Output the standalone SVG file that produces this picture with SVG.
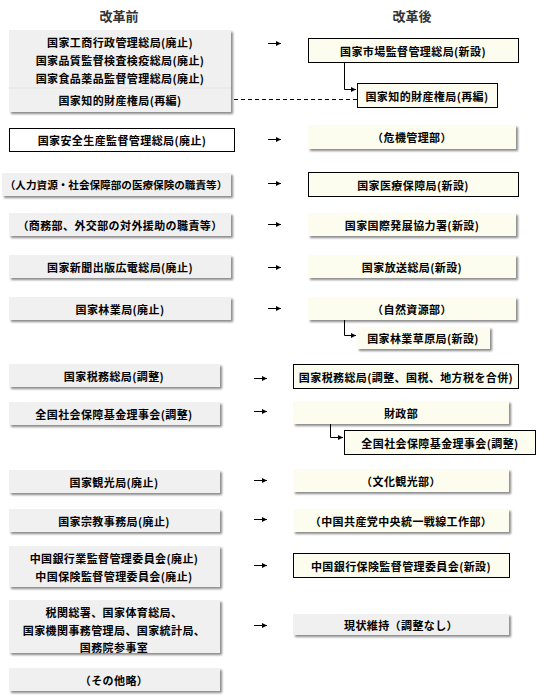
<svg xmlns="http://www.w3.org/2000/svg" width="552" height="700" viewBox="0 0 552 700">
<defs>
<style>
.bg{fill:#fff}
.g{fill:#f0f0f0}
.c{fill:#fdfdef}
.w{fill:#fff}
.s{fill:#8a8a8a;filter:url(#blur)}
.b{stroke:#000;stroke-width:1}
.ln{fill:none;stroke:#000;stroke-width:1}
.dash{fill:none;stroke:#000;stroke-width:1;stroke-dasharray:4 3}
text{font-family:"Noto Sans CJK JP","Noto Sans CJK SC",sans-serif;font-size:11px;font-weight:bold;letter-spacing:0.4px;fill:#000;text-anchor:middle;dominant-baseline:central}
text.h{font-size:13px;font-weight:bold;letter-spacing:0;fill:#333}
text.n{letter-spacing:0;font-size:10.6px}
</style>
<filter id="blur" x="-5%" y="-20%" width="110%" height="140%">
<feGaussianBlur stdDeviation="0.8"/>
</filter>
<marker id="ah" viewBox="0 0 6 6" refX="6" refY="3" markerWidth="5" markerHeight="5" orient="auto" markerUnits="userSpaceOnUse">
<path d="M0,0 L6,3 L0,6 Z" fill="#000"/>
</marker>
</defs>
<rect class="bg" x="0" y="0" width="552" height="700"/>
<text class="h" x="119" y="15">改革前</text>
<text class="h" x="412" y="15">改革後</text>

<g id="L1">
<rect class="s" x="11" y="32" width="222" height="82"/>
<rect class="g" x="9" y="30" width="222" height="82"/>
<line x1="9" y1="88" x2="231" y2="88" stroke="#e4e4e4"/>
<text x="120" y="42">国家工商行政管理総局(廃止)</text>
<text x="120" y="60">国家品質監督検査検疫総局(廃止)</text>
<text x="120" y="78">国家食品薬品監督管理総局(廃止)</text>
<text x="120" y="100">国家知的財産権局(再編)</text>
</g>
<g id="R1">
<rect class="c b" x="308.5" y="38.5" width="210" height="24"/>
<text x="413" y="51">国家市場監督管理総局(新設)</text>
</g>
<g id="R1b">
<rect class="c b" x="357.5" y="83.5" width="140" height="24"/>
<text x="427" y="96">国家知的財産権局(再編)</text>
</g>

<g id="L2">
<rect class="w b" x="9.5" y="128.5" width="225" height="23"/>
<text x="122" y="140">国家安全生産監督管理総局(廃止)</text>
</g>
<g id="R2">
<rect class="s" x="310" y="127" width="208" height="24"/>
<rect class="c" x="308" y="125" width="208" height="24"/>
<text x="412" y="137">（危機管理部）</text>
</g>

<g id="L3">
<rect class="s" x="4" y="175" width="229" height="23"/>
<rect class="g" x="2" y="173" width="229" height="23"/>
<text class="n" x="116" y="184">（人力資源・社会保障部の医療保険の職責等）</text>
</g>
<g id="R3">
<rect class="c b" x="308.5" y="172.5" width="210" height="24"/>
<text x="413" y="185">国家医療保障局(新設)</text>
</g>

<g id="L4">
<rect class="s" x="11" y="215" width="222" height="23"/>
<rect class="g" x="9" y="213" width="222" height="23"/>
<text x="120" y="225">（商務部、外交部の対外援助の職責等）</text>
</g>
<g id="R4">
<rect class="s" x="310" y="215" width="208" height="23"/>
<rect class="c" x="308" y="213" width="208" height="23"/>
<text x="412" y="225">国家国際発展協力署(新設)</text>
</g>

<g id="L5">
<rect class="s" x="11" y="257" width="222" height="23"/>
<rect class="g" x="9" y="255" width="222" height="23"/>
<text x="120" y="267">国家新聞出版広電総局(廃止)</text>
</g>
<g id="R5">
<rect class="s" x="310" y="257" width="208" height="23"/>
<rect class="c" x="308" y="255" width="208" height="23"/>
<text x="412" y="267">国家放送総局(新設)</text>
</g>

<g id="L6">
<rect class="s" x="11" y="299" width="222" height="23"/>
<rect class="g" x="9" y="297" width="222" height="23"/>
<text x="120" y="309">国家林業局(廃止)</text>
</g>
<g id="R6">
<rect class="s" x="310" y="299" width="208" height="23"/>
<rect class="c" x="308" y="297" width="208" height="23"/>
<text x="412" y="309">（自然資源部）</text>
</g>
<g id="R6b">
<rect class="s" x="359" y="329" width="133" height="22"/>
<rect class="c" x="357" y="327" width="133" height="22"/>
<text x="423" y="338">国家林業草原局(新設)</text>
</g>

<g id="L7">
<rect class="s" x="11" y="366" width="211" height="23"/>
<rect class="g" x="9" y="364" width="211" height="23"/>
<text x="114" y="376">国家税務総局(調整)</text>
</g>
<g id="R7">
<rect class="c b" x="293.5" y="364.5" width="225" height="24"/>
<text x="406" y="377">国家税務総局(調整、国税、地方税を合併)</text>
</g>

<g id="L8">
<rect class="s" x="11" y="404" width="211" height="23"/>
<rect class="g" x="9" y="402" width="211" height="23"/>
<text x="114" y="414">全国社会保障基金理事会(調整)</text>
</g>
<g id="R8">
<rect class="s" x="295" y="403" width="216" height="23"/>
<rect class="c" x="293" y="401" width="216" height="23"/>
<text x="401" y="413">財政部</text>
</g>
<g id="R8b">
<rect class="c b" x="344.5" y="430.5" width="191" height="24"/>
<text x="440" y="443">全国社会保障基金理事会(調整)</text>
</g>

<g id="L9">
<rect class="s" x="11" y="472" width="211" height="23"/>
<rect class="g" x="9" y="470" width="211" height="23"/>
<text x="114" y="482">国家観光局(廃止)</text>
</g>
<g id="R9">
<rect class="s" x="295" y="471" width="216" height="23"/>
<rect class="c" x="293" y="469" width="216" height="23"/>
<text x="401" y="481">（文化観光部）</text>
</g>

<g id="L10">
<rect class="s" x="11" y="511" width="211" height="23"/>
<rect class="g" x="9" y="509" width="211" height="23"/>
<text x="114" y="521">国家宗教事務局(廃止)</text>
</g>
<g id="R10">
<rect class="s" x="295" y="511" width="216" height="23"/>
<rect class="c" x="293" y="509" width="216" height="23"/>
<text x="401" y="521">（中国共産党中央統一戦線工作部）</text>
</g>

<g id="L11">
<rect class="s" x="11" y="548" width="211" height="41"/>
<rect class="g" x="9" y="546" width="211" height="41"/>
<text x="114" y="558">中国銀行業監督管理委員会(廃止)</text>
<text x="114" y="576">中国保険監督管理委員会(廃止)</text>
</g>
<g id="R11">
<rect class="c b" x="293.5" y="553.5" width="216" height="24"/>
<text x="401" y="566">中国銀行保険監督管理委員会(新設)</text>
</g>

<g id="L12">
<rect class="s" x="11" y="602" width="211" height="53"/>
<rect class="g" x="9" y="600" width="211" height="53"/>
<text x="114" y="612">税関総署、国家体育総局、</text>
<text x="114" y="630">国家機関事務管理局、国家統計局、</text>
<text x="114" y="647">国務院参事室</text>
</g>
<g id="R12">
<rect class="s" x="295" y="616" width="216" height="21"/>
<rect class="g" x="293" y="614" width="216" height="21"/>
<text x="401" y="625">現状維持（調整なし）</text>
</g>

<g id="L13">
<rect class="s" x="11" y="670" width="211" height="23"/>
<rect class="g" x="9" y="668" width="211" height="23"/>
<text x="114" y="680">（その他略）</text>
</g>

<g id="connectors">
<line class="ln" x1="268" y1="43.5" x2="281" y2="43.5" marker-end="url(#ah)"/>
<line class="ln" x1="268" y1="139.5" x2="281" y2="139.5" marker-end="url(#ah)"/>
<line class="ln" x1="268" y1="183.5" x2="281" y2="183.5" marker-end="url(#ah)"/>
<line class="ln" x1="268" y1="224.5" x2="281" y2="224.5" marker-end="url(#ah)"/>
<line class="ln" x1="268" y1="267.5" x2="281" y2="267.5" marker-end="url(#ah)"/>
<line class="ln" x1="268" y1="308.5" x2="281" y2="308.5" marker-end="url(#ah)"/>
<line class="ln" x1="254" y1="378.5" x2="267" y2="378.5" marker-end="url(#ah)"/>
<line class="ln" x1="254" y1="411.5" x2="267" y2="411.5" marker-end="url(#ah)"/>
<line class="ln" x1="254" y1="480.5" x2="267" y2="480.5" marker-end="url(#ah)"/>
<line class="ln" x1="254" y1="519.5" x2="267" y2="519.5" marker-end="url(#ah)"/>
<line class="ln" x1="254" y1="565.5" x2="267" y2="565.5" marker-end="url(#ah)"/>
<line class="ln" x1="254" y1="625.5" x2="267" y2="625.5" marker-end="url(#ah)"/>
<path class="ln" d="M344.5,63 V89.5 H356" marker-end="url(#ah)"/>
<path class="dash" d="M234,99.5 H357"/>
<path class="ln" d="M344.5,320 V335.5 H356" marker-end="url(#ah)"/>
<path class="ln" d="M330.5,424 V437.5 H343" marker-end="url(#ah)"/>
</g>
</svg>
